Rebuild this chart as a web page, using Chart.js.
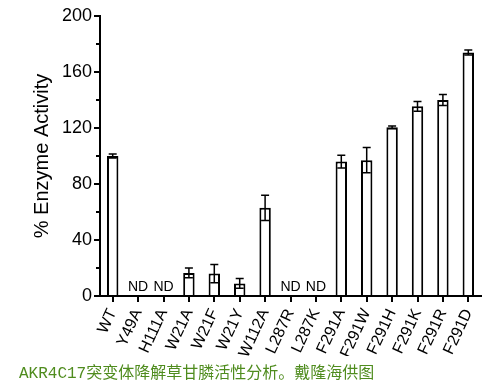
<!DOCTYPE html>
<html>
<head>
<meta charset="utf-8">
<script src="https://cdn.jsdelivr.net/npm/chart.js@4"></script>
<style>
  body { margin: 0; background: #fff; }
  #wrap { position: relative; width: 500px; height: 385px; }
  #caption {
    position: absolute; left: 19px; top: 359px;
    font-family: "Liberation Mono", "Noto Sans CJK SC", monospace;
    font-size: 16px; color: #4f8c1e; white-space: nowrap;
  }
</style>
</head>
<body>
<div id="wrap">
  <canvas id="grafica" width="500" height="385"></canvas>
  <div id="caption">AKR4C17突变体降解草甘膦活性分析。戴隆海供图</div>
</div>
<script>
// datos (null = ND)
const mutantes = ['WT', 'Y49A', 'H111A', 'W21A', 'W21F', 'W21Y', 'W112A', 'L287R', 'L287K',
  'F291A', 'F291W', 'F291H', 'F291K', 'F291R', 'F291D'];
const actividad = [100, null, null, 16.5, 16, 9, 63, null, null, 96, 97, 120.5, 135.5, 140, 174];
const errores = [1.5, 0, 0, 3.5, 6.5, 3.5, 9, 0, 0, 4.5, 9, 1, 3.5, 4, 1.8];
const ticksY = [0, 40, 80, 120, 160, 200];

// barras de error
const barrasError = {
  id: 'barrasError',
  afterDatasetsDraw(chart) {
    const { ctx } = chart;
    const x = chart.scales.x, y = chart.scales.y;
    ctx.save();
    ctx.strokeStyle = '#000';
    ctx.lineWidth = 1.5;
    actividad.forEach((v, i) => {
      if (v === null) return;
      const px = x.getPixelForValue(i);
      const top = y.getPixelForValue(v + errores[i]);
      const bot = y.getPixelForValue(v - errores[i]);
      ctx.beginPath();
      ctx.moveTo(px, top); ctx.lineTo(px, bot);
      ctx.moveTo(px - 4, top); ctx.lineTo(px + 4, top);
      ctx.moveTo(px - 4, bot); ctx.lineTo(px + 4, bot);
      ctx.stroke();
    });
    ctx.restore();
  }
};

// "ND" y marcas menores del eje y
const extras = {
  id: 'extras',
  afterDraw(chart) {
    const { ctx } = chart;
    const x = chart.scales.x, y = chart.scales.y;
    ctx.save();
    ctx.fillStyle = '#000';
    ctx.font = '14px "Liberation Sans", Arial, sans-serif';
    ctx.textAlign = 'center';
    ctx.textBaseline = 'bottom';
    actividad.forEach((v, i) => {
      if (v !== null) return;
      ctx.fillText('ND', x.getPixelForValue(i), y.getPixelForValue(0) - 2);
    });
    ctx.strokeStyle = '#000';
    ctx.lineWidth = 2;
    for (let k = 0; k < ticksY.length - 1; k++) {
      const py = y.getPixelForValue((ticksY[k] + ticksY[k + 1]) / 2);
      ctx.beginPath();
      ctx.moveTo(chart.chartArea.left - 4, py);
      ctx.lineTo(chart.chartArea.left, py);
      ctx.stroke();
    }
    ctx.restore();
  }
};

const ctx = document.getElementById('grafica').getContext('2d');

const grafica = new Chart(ctx, {
  type: 'bar',
  data: {
    labels: mutantes,
    datasets: [{
      data: actividad,
      backgroundColor: '#fff',
      borderColor: '#000',
      borderWidth: 2,
      barPercentage: 0.45,
      categoryPercentage: 1
    }]
  },
  options: {
    responsive: false,
    animation: false,
    layout: { padding: { top: 16, right: 19, bottom: 29, left: 0 } },
    plugins: { legend: { display: false }, tooltip: { enabled: false } },
    scales: {
      x: {
        grid: { offset: false, drawOnChartArea: false, tickLength: 6, color: '#000', lineWidth: 2 },
        border: { color: '#000', width: 2 },
        ticks: {
          color: '#000',
          font: { family: '"Liberation Sans", Arial, sans-serif', size: 16 },
          minRotation: 65, maxRotation: 65, padding: 4, autoSkip: false
        },
        afterFit(scale) {
          scale.height = 60;
          scale.paddingLeft = 0;
          scale.paddingRight = 0;
        }
      },
      y: {
        min: 0, max: 200,
        grid: { drawOnChartArea: false, tickLength: 6, color: '#000', lineWidth: 2 },
        border: { color: '#000', width: 2 },
        ticks: {
          stepSize: 40, color: '#000', padding: 2,
          font: { family: '"Liberation Sans", Arial, sans-serif', size: 18 }
        },
        title: {
          display: true, text: '% Enzyme Activity', color: '#000',
          font: { family: '"Liberation Sans", Arial, sans-serif', size: 20 },
          padding: { top: 30, bottom: 0 }
        },
        afterFit(scale) {
          scale.width = 100;
          scale.paddingTop = 0;
          scale.paddingBottom = 0;
        }
      }
    }
  },
  plugins: [barrasError, extras]
});
</script>
</body>
</html>
